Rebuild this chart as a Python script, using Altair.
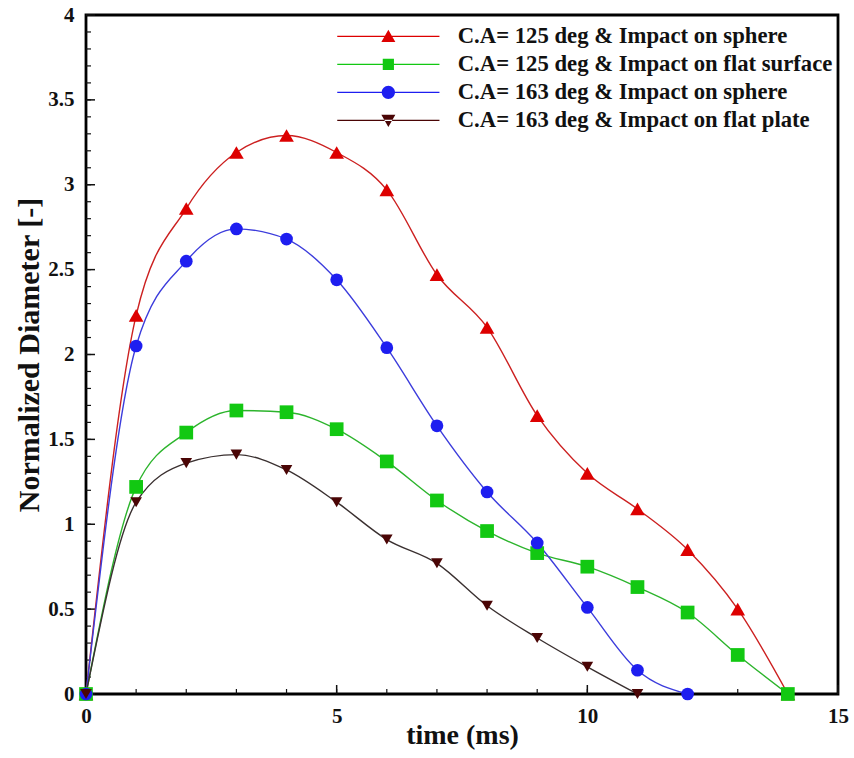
import altair as alt
import pandas as pd

# ---- data ----
series_names = [
    "C.A= 125 deg & Impact on sphere",
    "C.A= 125 deg & Impact on flat surface",
    "C.A= 163 deg & Impact on sphere",
    "C.A= 163 deg & Impact on flat plate",
]
time_s1 = [0, 1, 2, 3, 4, 5, 6, 7, 8, 9, 10, 11, 12, 13, 14]
diam_s1 = [0, 2.23, 2.86, 3.19, 3.29, 3.19, 2.97, 2.47, 2.16, 1.64, 1.30, 1.09, 0.85, 0.50, 0]
time_s2 = [0, 1, 2, 3, 4, 5, 6, 7, 8, 9, 10, 11, 12, 13, 14]
diam_s2 = [0, 1.22, 1.54, 1.67, 1.66, 1.56, 1.37, 1.14, 0.96, 0.83, 0.75, 0.63, 0.48, 0.23, 0]
time_s3 = [0, 1, 2, 3, 4, 5, 6, 7, 8, 9, 10, 11, 12]
diam_s3 = [0, 2.05, 2.55, 2.74, 2.68, 2.44, 2.04, 1.58, 1.19, 0.89, 0.51, 0.14, 0]
time_s4 = [0, 1, 2, 3, 4, 5, 6, 7, 8, 9, 10, 11]
diam_s4 = [0, 1.13, 1.36, 1.41, 1.32, 1.13, 0.91, 0.77, 0.52, 0.33, 0.16, 0]

x_major = [0, 5, 10, 15]
x_minor = [0, 1, 2, 3, 4, 5, 6, 7, 8, 9, 10, 11, 12, 13, 14, 15]
y_major = [0, 0.5, 1, 1.5, 2, 2.5, 3, 3.5, 4]
y_minor = [round(i * 0.1, 1) for i in range(41)]

# ---- styling ----
marker_colors = ["#dd0000", "#12c812", "#1e1ef0", "#4a0505"]
line_colors = ["#cc2020", "#2cb42c", "#3c3cdc", "#3a3030"]
shapes = ["triangle-up", "square", "circle", "triangle-down"]
sizes = [215, 135, 185, 215]
LINE = "M-7.3,-0.09H7.3V0.09H-7.3Z"
legend_shapes = [
    LINE + "M0,-0.95L1,0.8L-1,0.8Z",
    LINE + "M-0.8,-0.8H0.8V0.8H-0.8Z",
    LINE + "M0.95,0A0.95,0.95 0 1,1 -0.95,0A0.95,0.95 0 1,1 0.95,0Z",
    LINE + "M0,0.95L1,-0.8L-1,-0.8Z",
]

rows = []
for name, ts, ds in [
    (series_names[0], time_s1, diam_s1),
    (series_names[1], time_s2, diam_s2),
    (series_names[2], time_s3, diam_s3),
    (series_names[3], time_s4, diam_s4),
]:
    for t, d in zip(ts, ds):
        rows.append({"series": name, "time": t, "diameter": d})
df = pd.DataFrame(rows)

W, H = 752, 679
FONT = "Liberation Serif"
xscale = alt.Scale(domain=[0, 15], nice=False, zero=False)
yscale = alt.Scale(domain=[0, 4], nice=False, zero=False)

x_axis = alt.Axis(
    values=x_major, format="~g", ticks=False, domain=False, grid=False,
    labelFlush=False,
    labelFont=FONT, labelFontSize=21, labelFontWeight="bold", labelColor="#111",
    labelPadding=11, title="time (ms)", titleFont=FONT, titleFontSize=28,
    titleFontWeight="bold", titleColor="#111", titlePadding=-5,
)
y_axis = alt.Axis(
    values=y_major, format="~g", ticks=False, domain=False, grid=False,
    labelFlush=False,
    labelFont=FONT, labelFontSize=21, labelFontWeight="bold", labelColor="#111",
    labelPadding=12, title="Normalized Diameter [-]", titleFont=FONT,
    titleFontSize=30, titleFontWeight="bold", titleColor="#111", titlePadding=3,
)

def X():
    return alt.X("time:Q", scale=xscale, axis=x_axis)

def Y():
    return alt.Y("diameter:Q", scale=yscale, axis=y_axis)

base = alt.Chart(df)

lines = base.mark_line(interpolate="monotone", strokeWidth=1.4).encode(
    x=X(), y=Y(),
    color=alt.Color("series:N", scale=alt.Scale(domain=series_names, range=line_colors), legend=None),
    detail="series:N",
)

points = base.mark_point(filled=True, opacity=1, strokeWidth=0).encode(
    x=X(), y=Y(),
    color=alt.Color("series:N", scale=alt.Scale(domain=series_names, range=marker_colors), legend=None),
    shape=alt.Shape("series:N", scale=alt.Scale(domain=series_names, range=shapes), legend=None),
    size=alt.Size("series:N", scale=alt.Scale(domain=series_names, range=sizes), legend=None),
)

legend = alt.Legend(
    title=None, orient="none", legendX=291, legendY=10, padding=0,
    labelFont=FONT, labelFontSize=22.7, labelFontWeight="bold", labelColor="#111",
    labelLimit=0, labelOffset=58, symbolSize=196, symbolStrokeWidth=0,
    symbolOpacity=1, rowPadding=4, direction="vertical",
)
legend_layer = base.transform_filter("false").mark_point(filled=True, size=196, strokeWidth=0).encode(
    x=X(), y=Y(),
    color=alt.Color("series:N", scale=alt.Scale(domain=series_names, range=marker_colors), legend=legend),
    shape=alt.Shape("series:N", scale=alt.Scale(domain=series_names, range=legend_shapes), legend=legend),
)

xmaj = alt.Chart(pd.DataFrame({"time": x_major})).mark_rule(color="#111", strokeWidth=1.5).encode(
    x=X(), y=alt.value(H), y2=alt.value(H - 9))
xmin = alt.Chart(pd.DataFrame({"time": x_minor})).mark_rule(color="#111", strokeWidth=1.2).encode(
    x=X(), y=alt.value(H), y2=alt.value(H - 5))
ymaj = alt.Chart(pd.DataFrame({"diameter": y_major})).mark_rule(color="#111", strokeWidth=1.5).encode(
    y=Y(), x=alt.value(0), x2=alt.value(9))
ymin = alt.Chart(pd.DataFrame({"diameter": y_minor})).mark_rule(color="#111", strokeWidth=1.2).encode(
    y=Y(), x=alt.value(0), x2=alt.value(5))

chart = alt.layer(xmin, xmaj, ymin, ymaj, lines, points, legend_layer).resolve_scale(
    color="independent", shape="independent", size="independent"
).properties(
    width=W, height=H,
    background="white",
    autosize=alt.AutoSizeParams(type="none"),
    padding={"left": 86, "top": 15, "right": 16, "bottom": 64},
).configure_view(
    stroke="#000", strokeWidth=2.8, fill="white"
)

chart.save("out.html", embed_options={"renderer": "svg", "actions": False})
